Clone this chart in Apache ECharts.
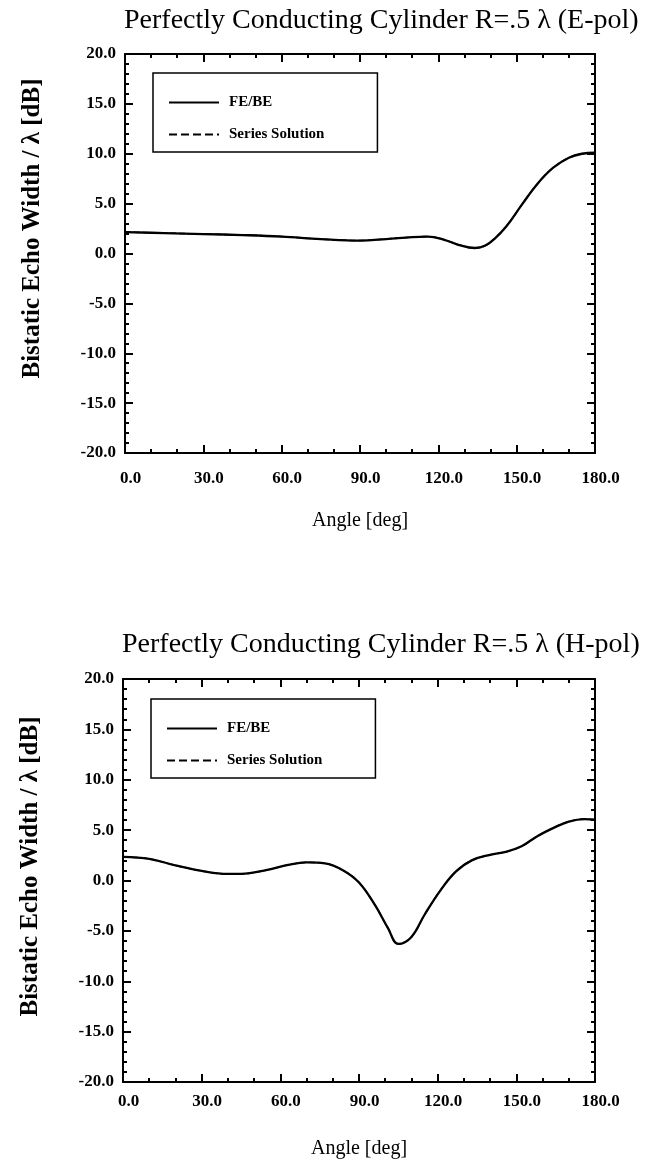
<!DOCTYPE html>
<html>
<head>
<meta charset="utf-8">
<script src="https://cdn.jsdelivr.net/npm/echarts@6/dist/echarts.min.js"></script>
<style>
html,body{margin:0;padding:0;background:#fff;}
#chart{width:652px;height:1167px;}
</style>
</head>
<body>
<div id="chart"></div>
<script>
// ---- Data ----
const titles = ['Perfectly Conducting Cylinder R=.5 \u03bb (E-pol)', 'Perfectly Conducting Cylinder R=.5 \u03bb (H-pol)'];
const seriesNames = ['FE/BE', 'Series Solution'];
const xAxisName = 'Angle [deg]';
const yAxisName = 'Bistatic Echo Width / \u03bb [dB]';

// E-pol (top)
const ePolAngles = [0, 15, 30, 45, 60, 75, 90, 100, 110, 116, 122, 128, 134, 138, 142, 146, 152, 158, 164, 170, 175, 180];
const ePolFEBE   = [2.15, 2.05, 1.95, 1.85, 1.7, 1.45, 1.3, 1.45, 1.65, 1.7, 1.4, 0.85, 0.55, 0.8, 1.6, 2.7, 4.9, 7.0, 8.6, 9.6, 10.0, 10.1];
const ePolSeries = [2.15, 2.05, 1.95, 1.85, 1.7, 1.45, 1.3, 1.45, 1.65, 1.7, 1.4, 0.85, 0.55, 0.8, 1.6, 2.7, 4.9, 7.0, 8.6, 9.6, 10.0, 10.1];

// H-pol (bottom)
const hPolAngles = [0, 10, 20, 30, 40, 45, 55, 63, 70, 77, 84, 90, 96, 101, 105, 110, 115, 121, 127, 133, 140, 146, 152, 158, 164, 170, 176, 180];
const hPolFEBE   = [2.35, 2.15, 1.5, 0.95, 0.65, 0.65, 1.05, 1.55, 1.8, 1.7, 1.0, -0.2, -2.4, -4.7, -6.3, -5.6, -3.4, -1.0, 0.9, 2.0, 2.55, 2.85, 3.4, 4.4, 5.2, 5.85, 6.1, 6.05];
const hPolSeries = [2.35, 2.15, 1.5, 0.95, 0.65, 0.65, 1.05, 1.55, 1.8, 1.7, 1.0, -0.2, -2.4, -4.7, -6.3, -5.6, -3.4, -1.0, 0.9, 2.0, 2.55, 2.85, 3.4, 4.4, 5.2, 5.85, 6.1, 6.05];

const xMin = 0, xMax = 180, xStep = 30;
const yMin = -20, yMax = 20, yStep = 5;

// ---- Build ----
const SERIF = '"Liberation Serif", "Times New Roman", serif';
const pairs = (xs, ys) => xs.map((x, i) => [x, ys[i]]);

const grids = [
  {left: 125, right: 57, top: 54, height: 399},
  {left: 123, right: 57, top: 679, height: 403}
];

function xAxes(gi, labelMargin, nameGap) {
  const base = {
    type: 'value', gridIndex: gi, min: xMin, max: xMax, interval: xStep,
    axisLine: {show: true, onZero: false, lineStyle: {color: '#000', width: 2}},
    axisTick: {show: true, inside: true, length: 8, lineStyle: {color: '#000', width: 2}},
    minorTick: {show: true, splitNumber: 3, length: 4, lineStyle: {color: '#000', width: 2}},
    splitLine: {show: false}
  };
  return [
    Object.assign({}, base, {
      position: 'bottom',
      name: xAxisName, nameLocation: 'middle', nameGap: nameGap,
      nameTextStyle: {fontFamily: SERIF, fontSize: 20, color: '#000'},
      axisLabel: {show: true, margin: labelMargin, formatter: v => v.toFixed(1),
        fontFamily: SERIF, fontWeight: 'bold', fontSize: 17, color: '#000', padding: [0, 0, 0, 11]}
    }),
    Object.assign({}, base, {position: 'top', axisLabel: {show: false}})
  ];
}

function yAxes(gi, namePad) {
  const base = {
    type: 'value', gridIndex: gi, min: yMin, max: yMax, interval: yStep,
    axisLine: {show: true, onZero: false, lineStyle: {color: '#000', width: 2}},
    axisTick: {show: true, inside: true, length: 8, lineStyle: {color: '#000', width: 2}},
    minorTick: {show: true, splitNumber: 5, length: 4, lineStyle: {color: '#000', width: 2}},
    splitLine: {show: false}
  };
  return [
    Object.assign({}, base, {
      position: 'left',
      name: yAxisName, nameLocation: 'middle', nameGap: 80, nameRotate: 90,
      nameTextStyle: {fontFamily: SERIF, fontWeight: 'bold', fontSize: 25, color: '#000', padding: namePad},
      axisLabel: {show: true, margin: 9, formatter: v => v.toFixed(1),
        fontFamily: SERIF, fontWeight: 'bold', fontSize: 17, color: '#000'}
    }),
    Object.assign({}, base, {position: 'right', axisLabel: {show: false}})
  ];
}

function legend(left, top) {
  return {
    left: left, top: top, orient: 'vertical',
    borderColor: '#000', borderWidth: 1.5, borderRadius: 0,
    padding: [22, 53, 10, 15],
    itemWidth: 50, itemHeight: 14, itemGap: 17,
    itemStyle: {color: 'rgba(0,0,0,0)', borderColor: 'rgba(0,0,0,0)', borderWidth: 0, opacity: 0},
    textStyle: {fontFamily: SERIF, fontWeight: 'bold', fontSize: 15, color: '#000', padding: [0, 0, 0, 5]},
    data: seriesNames
  };
}

function lineSeries(name, xi, yi, data, dashed) {
  return {
    name: name, type: 'line', xAxisIndex: xi, yAxisIndex: yi,
    data: data, smooth: 0.4, symbol: 'none', showSymbol: false,
    lineStyle: {color: '#000', width: dashed ? 1.5 : 2.3, type: dashed ? 'dashed' : 'solid'},
    itemStyle: {color: '#000'},
    emphasis: {disabled: true},
    z: dashed ? 2 : 3, animation: false
  };
}

const option = {
  backgroundColor: '#fff',
  animation: false,
  title: [
    {text: titles[0], left: 119, top: 2, textStyle: {fontFamily: SERIF, fontWeight: 'normal', fontSize: 28, color: '#000'}},
    {text: titles[1], left: 117, top: 626, textStyle: {fontFamily: SERIF, fontWeight: 'normal', fontSize: 28, color: '#000'}}
  ],
  legend: [legend(153, 73), legend(151, 699)],
  grid: grids,
  xAxis: [...xAxes(0, 17, 58), ...xAxes(1, 11, 57)],
  yAxis: [...yAxes(0, [0, 0, 0, 50]), ...yAxes(1, [0, 0, 0, 28])],
  series: [
    lineSeries(seriesNames[1], 0, 0, pairs(ePolAngles, ePolSeries), true),
    lineSeries(seriesNames[0], 0, 0, pairs(ePolAngles, ePolFEBE), false),
    lineSeries(seriesNames[1], 2, 2, pairs(hPolAngles, hPolSeries), true),
    lineSeries(seriesNames[0], 2, 2, pairs(hPolAngles, hPolFEBE), false)
  ]
};

const chart = echarts.init(document.getElementById('chart'), null, {renderer: 'canvas'});
chart.setOption(option);
</script>
</body>
</html>
